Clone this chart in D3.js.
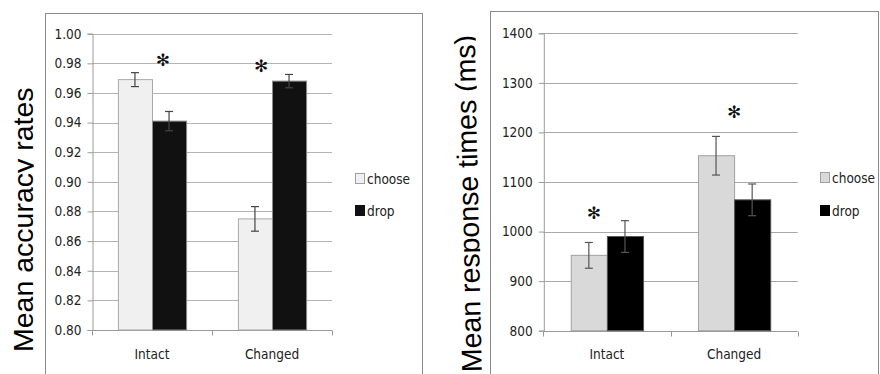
<!DOCTYPE html>
<html>
<head>
<meta charset="utf-8">
<script src="https://cdn.jsdelivr.net/npm/d3@7"></script>
<style>
  html, body { margin: 0; padding: 0; background: #fff; }
  svg { display: block; }
  .tick-label { font-family: "DejaVu Sans Condensed", Roboto, sans-serif; fill: #222; }
  .ytitle { font-family: "Liberation Sans", Arial, sans-serif; fill: #000; }
</style>
</head>
<body>
<svg id="chart" width="880" height="374"></svg>
<script>
// Conditions and series
const categories = ["Intact", "Changed"];
const seriesNames = ["choose", "drop"];

// Panel A: accuracy
const accuracyChoose = [0.969, 0.875];
const accuracyDrop = [0.941, 0.968];
const accuracyChooseErr = [0.0047, 0.0083];
const accuracyDropErr = [0.0065, 0.0045];
const accuracyTicks = [0.80, 0.82, 0.84, 0.86, 0.88, 0.90, 0.92, 0.94, 0.96, 0.98, 1.00];

// Panel B: response times
const rtChoose = [952, 1153];
const rtDrop = [990, 1064];
const rtChooseErr = [26, 39];
const rtDropErr = [32, 32];
const rtTicks = [800, 900, 1000, 1100, 1200, 1300, 1400];

// Significance markers: [category, offset in bar widths from group centre, value]
const accuracyStars = [["Intact", 0.32, 0.9822], ["Changed", -0.32, 0.978]];
const rtStars = [["Intact", -0.36, 1037], ["Changed", 0, 1242]];

const svg = d3.select("#chart");

function panel(cfg) {
  const g = svg.append("g");

  // outer frame
  g.append("rect")
    .attr("x", cfg.frame[0]).attr("y", cfg.frame[1])
    .attr("width", cfg.frame[2]).attr("height", cfg.frame[3])
    .attr("fill", "none").attr("stroke", "#8c8c8c").attr("stroke-width", 1);

  const y = d3.scaleLinear().domain(cfg.domain).range([cfg.bottom, cfg.top]);
  const x0 = d3.scaleBand().domain(categories).range([cfg.left, cfg.right]).padding(0);
  const x1 = d3.scaleBand().domain(seriesNames).range([0, x0.bandwidth()])
    .paddingInner(0).paddingOuter(0.76);

  // gridlines
  g.append("g").selectAll("line").data(cfg.ticks.filter(t => t !== cfg.domain[0]))
    .join("line")
    .attr("x1", cfg.left).attr("x2", cfg.right)
    .attr("y1", d => Math.round(y(d)) + 0.5).attr("y2", d => Math.round(y(d)) + 0.5)
    .attr("stroke", cfg.gridColor).attr("stroke-width", 1);

  // y axis
  const yAxis = d3.axisLeft(y).tickValues(cfg.ticks).tickFormat(cfg.fmt).tickSize(5).tickPadding(6);
  const ya = g.append("g").attr("transform", `translate(${cfg.left + 0.5},0)`).call(yAxis);
  ya.select(".domain").attr("stroke", "#9a9a9a");
  ya.selectAll(".tick line").attr("stroke", "#9a9a9a");
  ya.selectAll("text").attr("class", "tick-label").style("font-size", "13.5px");

  // x axis line and category boundary ticks
  const baseY = Math.round(y(cfg.domain[0])) + 0.5;
  g.append("line").attr("x1", cfg.left).attr("x2", cfg.right)
    .attr("y1", baseY).attr("y2", baseY).attr("stroke", "#9a9a9a");
  const bounds = categories.map(c => x0(c)).concat([x0(categories[categories.length - 1]) + x0.bandwidth()]);
  g.append("g").selectAll("line").data(bounds).join("line")
    .attr("x1", d => Math.round(d) + 0.5).attr("x2", d => Math.round(d) + 0.5)
    .attr("y1", baseY).attr("y2", baseY + 5).attr("stroke", "#9a9a9a");
  g.append("g").selectAll("text").data(categories).join("text")
    .attr("class", "tick-label")
    .attr("x", d => x0(d) + x0.bandwidth() / 2).attr("y", cfg.xLabelY)
    .attr("text-anchor", "middle").style("font-size", "13.5px")
    .text(d => d);

  // bars
  const rows = [];
  categories.forEach((c, i) => {
    seriesNames.forEach((s, j) => {
      rows.push({ cat: c, ser: s, v: cfg.values[j][i], e: cfg.errors[j][i] });
    });
  });
  g.append("g").selectAll("rect").data(rows).join("rect")
    .attr("x", d => x0(d.cat) + x1(d.ser) + 0.5)
    .attr("y", d => y(d.v))
    .attr("width", x1.bandwidth())
    .attr("height", d => y(cfg.domain[0]) - y(d.v))
    .attr("fill", d => cfg.fills[d.ser])
    .attr("stroke", d => cfg.strokes[d.ser]).attr("stroke-width", 1);

  // error bars
  const eb = g.append("g").attr("stroke", cfg.errColor).attr("stroke-width", 1.2);
  rows.forEach(d => {
    const cx = x0(d.cat) + x1(d.ser) + x1.bandwidth() / 2;
    const hi = y(d.v + d.e), lo = y(d.v - d.e);
    eb.append("line").attr("x1", cx).attr("x2", cx).attr("y1", hi).attr("y2", lo);
    eb.append("line").attr("x1", cx - 4).attr("x2", cx + 4).attr("y1", hi).attr("y2", hi);
    eb.append("line").attr("x1", cx - 4).attr("x2", cx + 4).attr("y1", lo).attr("y2", lo);
  });

  // significance asterisks
  g.append("g").selectAll("text").data(cfg.stars).join("text")
    .attr("x", d => x0(d[0]) + x0.bandwidth() / 2 + d[1] * x1.bandwidth())
    .attr("y", d => y(d[2]))
    .attr("text-anchor", "middle")
    .attr("dominant-baseline", "central")
    .style("font-family", "DejaVu Sans, sans-serif").style("font-size", "17px")
    .attr("fill", "#111")
    .text("✻");

  // legend
  const lg = g.append("g");
  seriesNames.forEach((s, j) => {
    const ly = cfg.legendY[j];
    lg.append("rect").attr("x", cfg.legendX + 0.5).attr("y", ly - 10.5)
      .attr("width", 9).attr("height", 10)
      .attr("fill", cfg.fills[s]).attr("stroke", cfg.legendStroke[s]);
    lg.append("text").attr("class", "tick-label")
      .attr("x", cfg.legendX + 12).attr("y", ly)
      .style("font-size", "13.5px").text(s);
  });

  // axis title, clipped just below its baseline
  const clipId = "clip-" + cfg.id;
  const tg = g.append("g")
    .attr("transform", `translate(${cfg.titlePos[0]},${cfg.titlePos[1]}) rotate(${cfg.titleAngle})`);
  tg.append("clipPath").attr("id", clipId)
    .append("rect").attr("x", -5).attr("y", -40).attr("width", 420).attr("height", 41);
  tg.append("text").attr("class", "ytitle")
    .attr("x", 0).attr("y", 0)
    .attr("clip-path", `url(#${clipId})`)
    .style("font-size", "28.5px")
    .text(cfg.title);
}

panel({
  id: "acc",
  frame: [45.5, 13.5, 377, 380],
  left: 92, right: 332, top: 33.7, bottom: 330,
  domain: [0.80, 1.00], ticks: accuracyTicks, fmt: d3.format(".2f"),
  values: [accuracyChoose, accuracyDrop], errors: [accuracyChooseErr, accuracyDropErr],
  fills: { choose: "#f0f0f0", drop: "#111111" },
  strokes: { choose: "#a8a8a8", drop: "#8a8a8a" },
  legendStroke: { choose: "#a0a0a0", drop: "#111111" },
  gridColor: "#b4b4b4", errColor: "#444",
  xLabelY: 359,
  stars: accuracyStars,
  legendX: 355, legendY: [184, 216],
  title: "Mean accuracy rates", titlePos: [32.7, 352], titleAngle: -90
});

panel({
  id: "rt",
  frame: [490.5, 11.5, 388, 380],
  left: 543.3, right: 797.7, top: 33.3, bottom: 330.7,
  domain: [800, 1400], ticks: rtTicks, fmt: d3.format("d"),
  values: [rtChoose, rtDrop], errors: [rtChooseErr, rtDropErr],
  fills: { choose: "#d9d9d9", drop: "#000000" },
  strokes: { choose: "#a0a0a0", drop: "#555555" },
  legendStroke: { choose: "#a0a0a0", drop: "#000000" },
  gridColor: "#a8a8a8", errColor: "#555",
  xLabelY: 359,
  stars: rtStars,
  legendX: 820, legendY: [183, 216],
  title: "Mean response times (ms)", titlePos: [481.7, 372], titleAngle: -91.2
});
</script>
</body>
</html>
